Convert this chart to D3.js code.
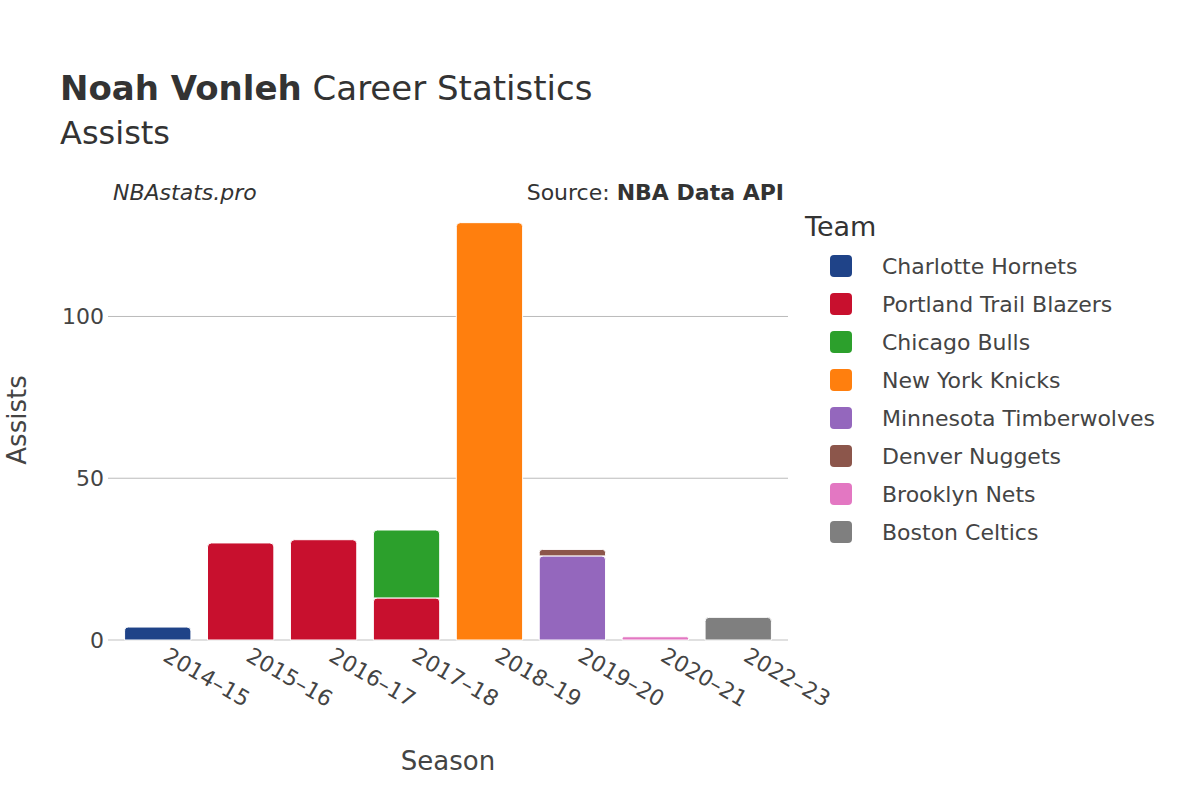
<!DOCTYPE html>
<html><head><meta charset="utf-8">
<script src="https://cdn.jsdelivr.net/npm/d3@7"></script>
<style>body{margin:0;background:#fff;font-family:"DejaVu Sans",sans-serif;}</style>
</head><body>
<svg id="chart" width="1200" height="800"></svg>
<script>
var seasons = ["2014–15","2015–16","2016–17","2017–18","2018–19","2019–20","2020–21","2022–23"];
var teams = ["Charlotte Hornets","Portland Trail Blazers","Chicago Bulls","New York Knicks","Minnesota Timberwolves","Denver Nuggets","Brooklyn Nets","Boston Celtics"];
var colors = ["#1f4388","#c8102e","#2ca02c","#ff7f0e","#9467bd","#8c564b","#e377c2","#7f7f7f"];
// one entry per stint: season, team, assists (stacked in order)
var stintSeason = ["2014–15","2015–16","2016–17","2017–18","2017–18","2018–19","2019–20","2019–20","2020–21","2022–23"];
var stintTeam = ["Charlotte Hornets","Portland Trail Blazers","Portland Trail Blazers","Portland Trail Blazers","Chicago Bulls","New York Knicks","Minnesota Timberwolves","Denver Nuggets","Brooklyn Nets","Boston Celtics"];
var stintAst = [4,30,31,13,21,129,26,2,1,7];
var yTicks = [0,50,100];

var svg = d3.select("#chart");
var x = d3.scaleBand().domain(seasons).range([108,788]).padding(0.2);
var y = d3.scaleLinear().domain([0,136]).range([640,200]);

svg.append("g").selectAll("line").data(yTicks).enter().append("line")
  .attr("x1",108).attr("x2",788).attr("y1",d=>y(d)).attr("y2",d=>y(d))
  .attr("stroke",d=>d===0?"#e0e0e0":"#bbb").attr("stroke-width",d=>d===0?2:1);
svg.append("g").selectAll("text").data(yTicks).enter().append("text")
  .attr("x",104).attr("y",d=>y(d)+8).attr("text-anchor","end")
  .attr("font-size",22).attr("fill","#444").text(d=>d);

var base = {};
var bars = stintAst.map(function(v,i){
  var s = stintSeason[i], b = base[s]||0; base[s] = b+v;
  return {s:s, t:stintTeam[i], y0:b, y1:b+v};
});
svg.append("g").selectAll("path").data(bars).enter().append("path")
  .attr("d",function(d){
    var x0=x(d.s), w=x.bandwidth(), top=y(d.y1), bot=y(d.y0), r=Math.min(4,(bot-top)/2);
    return "M"+x0+","+bot+"V"+(top+r)+"Q"+x0+","+top+" "+(x0+r)+","+top+"H"+(x0+w-r)+"Q"+(x0+w)+","+top+" "+(x0+w)+","+(top+r)+"V"+bot+"Z";
  })
  .attr("fill",d=>colors[teams.indexOf(d.t)]).attr("stroke","#fff").attr("stroke-width",1);

svg.append("g").selectAll("text").data(seasons).enter().append("text")
  .attr("transform",d=>"translate("+(x(d)+x.bandwidth()/2+4)+",660) rotate(30)")
  .attr("font-size",22).attr("fill","#444").text(d=>d);

svg.append("text").attr("x",448).attr("y",770).attr("text-anchor","middle").attr("font-size",26).attr("fill","#444").text("Season");
svg.append("text").attr("transform","translate(26,420) rotate(-90)").attr("text-anchor","middle").attr("font-size",26).attr("fill","#444").text("Assists");

var t = svg.append("text").attr("x",60).attr("y",100).attr("font-size",34).attr("fill","#333");
t.append("tspan").attr("font-weight","bold").text("Noah Vonleh");
t.append("tspan").text(" Career Statistics");
svg.append("text").attr("x",60).attr("y",144).attr("font-size",32).attr("fill","#333").text("Assists");
svg.append("text").attr("x",113).attr("y",200).attr("font-size",22).attr("font-style","italic").attr("fill","#333").text("NBAstats.pro");
var src = svg.append("text").attr("x",784).attr("y",200).attr("text-anchor","end").attr("font-size",22).attr("fill","#333");
src.append("tspan").text("Source: ");
src.append("tspan").attr("font-weight","bold").text("NBA Data API");

svg.append("text").attr("x",805).attr("y",236).attr("font-size",27).attr("fill","#333").text("Team");
var lg = svg.append("g").selectAll("g").data(teams).enter().append("g")
  .attr("transform",(d,i)=>"translate(830,"+(266+i*38)+")");
lg.append("rect").attr("x",0).attr("y",-11).attr("width",22).attr("height",22).attr("rx",4).attr("fill",(d,i)=>colors[i]);
lg.append("text").attr("x",52).attr("y",8).attr("font-size",22).attr("fill","#444").text(d=>d);
</script>
</body></html>
